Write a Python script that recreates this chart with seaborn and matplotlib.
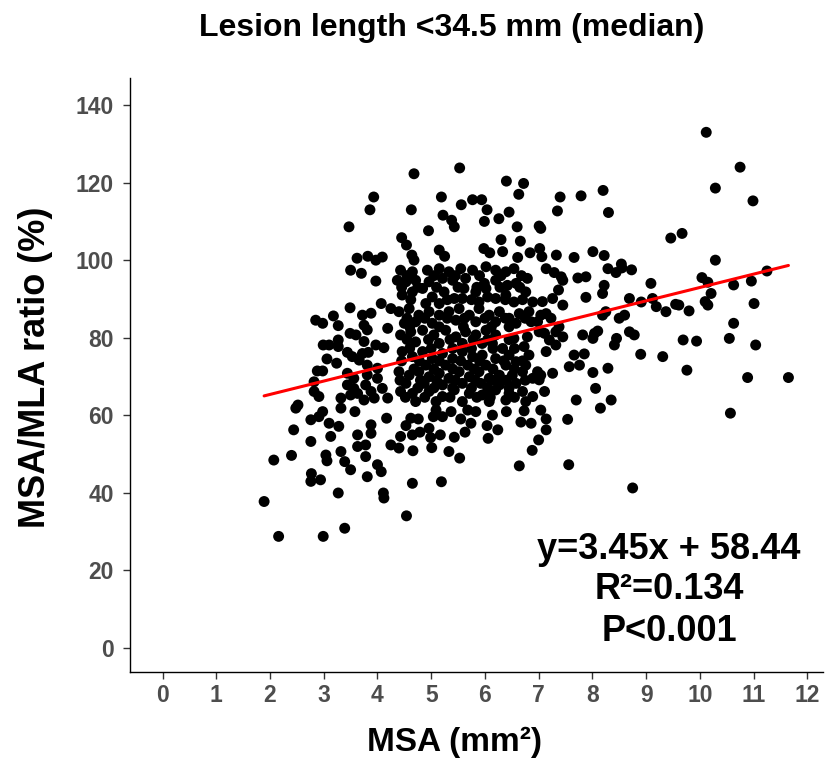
"""Scatter of MSA/MLA ratio vs MSA for lesions shorter than the median length."""
import matplotlib.pyplot as plt
import pandas as pd
import seaborn as sns

# values, (MSA mm2, MSA/MLA %)
upper_pts = [
    (3.93, 116.3), (3.86, 113.0), (3.47, 108.6), (3.62, 100.5), (3.82, 101.0), (3.97, 100.0), (4.09, 100.8),
    (4.68, 122.3), (5.53, 123.8), (6.40, 120.4), (6.72, 119.8), (6.63, 117.0), (5.19, 116.3), (5.77, 115.6),
    (5.94, 115.6), (4.63, 113.0), (5.56, 114.3), (6.04, 113.0), (6.45, 112.4), (5.22, 111.6), (5.38, 110.3),
    (5.43, 108.6), (5.99, 110.0), (6.26, 110.7), (6.60, 108.6), (4.95, 107.6), (4.45, 105.8), (4.54, 103.9),
    (6.30, 105.3), (6.66, 104.9), (5.15, 102.6), (5.25, 101.0), (5.98, 103.0), (6.09, 101.9), (6.33, 102.2),
    (6.61, 100.7), (6.84, 101.9), (4.64, 101.3), (4.68, 100.0),
    (7.40, 116.3), (7.79, 116.6), (8.20, 118.0), (7.35, 112.7), (8.30, 112.3), (7.01, 108.8), (7.04, 108.2),
    (9.46, 105.7), (7.02, 103.0), (7.06, 100.9), (7.33, 101.3), (7.66, 100.7), (8.01, 102.2), (8.22, 101.2),
    (8.54, 99.0),
    (10.12, 133.0), (10.75, 124.0), (10.29, 118.6), (10.99, 115.3), (9.67, 106.9), (10.29, 100.0),
]

right_pts = [
    (10.04, 95.5), (10.15, 94.3), (10.63, 93.6), (10.96, 94.6), (11.25, 97.2), (10.21, 91.4), (9.61, 88.4),
    (9.80, 86.9), (10.10, 89.3), (10.15, 88.4), (11.01, 88.8), (10.63, 83.7), (9.69, 79.4), (9.94, 79.1),
    (10.55, 79.8), (11.04, 78.1), (9.76, 71.6), (10.89, 69.7), (11.65, 69.7), (10.57, 60.5),
]

left_pts = [
    (3.50, 97.4), (3.70, 96.6), (3.97, 94.6), (3.49, 87.7), (4.07, 88.8), (4.25, 87.5), (3.88, 86.3),
    (3.72, 85.8), (3.18, 85.6), (2.85, 84.5), (2.98, 83.7), (3.27, 83.1), (3.75, 83.2), (3.81, 82.0),
    (4.19, 82.4), (3.49, 81.1), (3.60, 80.7), (3.27, 79.4), (2.99, 78.1), (3.10, 78.1), (3.27, 77.7),
    (3.75, 79.0), (3.97, 78.1), (4.12, 77.4), (3.44, 76.2), (3.53, 75.1), (3.72, 75.9), (3.83, 76.2),
    (3.06, 74.5), (3.24, 73.4), (3.66, 74.2), (3.81, 72.9), (4.00, 72.1), (2.88, 71.4), (2.98, 71.4),
    (3.44, 70.8), (3.56, 69.5), (3.81, 70.4), (4.00, 69.5), (2.82, 68.6), (3.44, 67.8), (3.56, 66.9),
    (3.78, 67.8), (3.88, 66.1), (4.09, 66.9), (2.82, 66.1), (2.91, 64.8), (3.32, 64.4), (3.50, 65.2),
    (3.63, 65.6), (3.75, 63.9), (3.94, 64.4), (4.19, 64.4), (2.52, 62.6),
]

core_pts = [
    (4.43, 97.4), (4.65, 97.0), (4.93, 97.4), (5.15, 97.8), (5.33, 97.0), (5.55, 97.8), (5.77, 97.4),
    (6.02, 98.3), (6.20, 97.4), (6.39, 97.0), (6.54, 97.8), (6.79, 95.3), (6.58, 94.0), (6.42, 93.5),
    (6.20, 94.8), (5.99, 94.0), (5.64, 95.3), (5.40, 94.8), (5.21, 95.3), (4.96, 94.4), (4.71, 94.8),
    (4.53, 94.4), (4.37, 94.8),
    (4.46, 91.0), (4.65, 91.8), (4.84, 92.7), (5.02, 90.5), (5.24, 91.8), (5.43, 90.1), (5.61, 92.7),
    (5.83, 91.8), (6.02, 92.7), (6.20, 90.1), (6.39, 91.0), (6.54, 89.2), (6.76, 91.8), (6.89, 89.2),
    (4.90, 88.8), (5.15, 88.8), (5.58, 90.1), (5.89, 89.2), (6.05, 90.5),
    (4.40, 86.7), (4.59, 87.5), (4.77, 85.8), (4.96, 86.7), (5.15, 85.8), (5.33, 86.7), (5.52, 87.5),
    (5.71, 85.8), (5.89, 87.5), (6.08, 85.8), (6.27, 86.7), (6.45, 85.0), (6.64, 86.2), (6.82, 86.7),
    (4.71, 84.1), (5.02, 83.7), (5.46, 84.5), (5.83, 84.1), (6.20, 84.1), (6.58, 83.7), (6.86, 84.1),
    (4.50, 83.7),
    (4.43, 80.7), (4.62, 81.5), (4.84, 81.9), (5.05, 80.7), (5.27, 81.9), (5.46, 80.2), (5.64, 81.5),
    (5.83, 80.7), (6.02, 81.9), (6.20, 80.7), (6.33, 77.2), (6.54, 79.8), (6.79, 80.2), (4.71, 78.9),
    (5.15, 78.5), (5.58, 78.5), (5.95, 78.5), (6.14, 78.5), (6.73, 77.7),
    (4.46, 76.4), (4.65, 75.1), (4.84, 76.4), (5.02, 74.6), (5.21, 75.9), (5.40, 74.6), (5.58, 76.4),
    (5.77, 75.1), (5.95, 75.5), (6.20, 74.6), (6.45, 75.5), (6.58, 73.8), (6.82, 75.5), (4.90, 72.9),
    (5.27, 72.9), (5.68, 72.9), (6.02, 72.9), (6.39, 72.9), (6.76, 72.9),
    (4.40, 71.2), (4.59, 70.3), (4.77, 71.2), (4.96, 69.9), (5.15, 70.8), (5.33, 69.5), (5.52, 71.2),
    (5.71, 69.9), (5.89, 71.2), (6.08, 69.5), (6.27, 70.3), (6.51, 70.3), (6.70, 71.2), (6.89, 69.5),
    (4.53, 68.2), (4.87, 68.2), (5.21, 67.8), (5.58, 68.2), (5.92, 68.2), (6.27, 67.8), (6.58, 68.2),
    (4.43, 66.1), (4.65, 65.6), (4.96, 66.1), (5.21, 64.8), (5.43, 66.5), (5.71, 65.6), (5.95, 65.2),
    (6.20, 66.5), (6.45, 65.6), (6.70, 66.1), (6.89, 64.8), (4.71, 63.5), (5.09, 63.5), (5.58, 63.5),
    (6.08, 63.5), (6.39, 63.9), (6.76, 63.5),
]

# extra points hidden in the solid-looking middle of the cloud
core_fill_pts = [
    (4.55, 96.0), (5.05, 96.0), (5.45, 96.0), (5.90, 96.0), (6.30, 96.0), (6.68, 96.0),
    (4.45, 93.0), (4.75, 93.0), (5.10, 93.0), (5.50, 93.0), (5.85, 93.0), (6.28, 93.0), (6.65, 93.0),
    (4.62, 89.8), (5.30, 89.8), (5.75, 89.8), (6.38, 89.8), (6.70, 89.8),
    (4.55, 85.0), (4.88, 85.0), (5.30, 85.0), (5.62, 85.0), (6.00, 85.0), (6.38, 85.0), (6.75, 85.0),
    (4.60, 82.8), (5.15, 82.8), (5.60, 82.8), (6.12, 82.8), (6.45, 82.8),
    (4.55, 79.5), (4.95, 79.5), (5.35, 79.5), (5.78, 79.5), (6.05, 79.5), (6.45, 79.5),
    (4.60, 77.2), (5.00, 77.2), (5.40, 77.2), (5.75, 77.2), (6.15, 77.2), (6.55, 77.2),
    (4.45, 74.0), (4.78, 74.0), (5.15, 74.0), (5.55, 74.0), (5.90, 74.0), (6.35, 74.0), (6.70, 74.0),
    (4.68, 71.9), (5.05, 71.9), (5.40, 71.9), (5.80, 71.9), (6.15, 71.9), (6.55, 71.9),
    (4.42, 69.0), (4.80, 69.0), (5.10, 69.0), (5.45, 69.0), (5.82, 69.0), (6.15, 69.0), (6.40, 69.0),
    (6.75, 69.0),
    (4.75, 67.0), (5.05, 67.0), (5.40, 67.0), (5.75, 67.0), (6.05, 67.0), (6.45, 67.0),
    (4.52, 64.6), (4.88, 64.6), (5.35, 64.6), (5.85, 64.6), (6.10, 64.6), (6.55, 64.6),
]

mid_right_pts = [
    (7.14, 97.8), (7.29, 96.8), (7.42, 95.7), (7.45, 94.8), (7.73, 95.4), (7.88, 95.7), (8.29, 97.8),
    (8.44, 96.8), (8.55, 98.0), (8.73, 97.5), (8.22, 93.5), (8.19, 91.4), (7.37, 92.3), (7.88, 90.4),
    (7.07, 89.3), (7.26, 90.1), (7.45, 88.4), (7.04, 85.8), (7.14, 86.2), (7.23, 85.0), (6.98, 84.1),
    (7.01, 81.5), (7.11, 81.1), (7.20, 79.4), (7.32, 78.1), (7.14, 76.4), (7.38, 82.8), (7.45, 80.2),
    (7.32, 81.5), (7.82, 80.7), (8.04, 81.1), (8.01, 79.8), (8.10, 81.7), (8.45, 79.8), (8.41, 78.1),
    (8.69, 81.5), (8.78, 80.7), (8.19, 85.8), (8.25, 86.7), (8.50, 85.0), (8.60, 85.8), (8.69, 90.1),
    (8.91, 89.2), (9.12, 90.1), (9.09, 94.0), (9.19, 88.0), (9.37, 86.7), (9.55, 88.6), (8.90, 75.7),
    (9.31, 75.1), (7.66, 75.5), (7.85, 75.8), (7.57, 72.5), (7.76, 72.9), (8.29, 72.1), (8.01, 71.0),
    (6.98, 71.2), (7.04, 70.3), (7.01, 69.1), (7.26, 70.8), (7.11, 66.1), (8.06, 66.9), (7.70, 63.9),
    (8.35, 63.9),
]

lower_pts = [
    (7.04, 61.3), (7.14, 59.0), (7.54, 58.9), (8.15, 61.8), (7.14, 56.2), (7.00, 53.6), (7.56, 47.2),
    (8.75, 41.2), (6.64, 46.9), (4.65, 42.4), (5.19, 42.8), (4.54, 34.0), (5.33, 50.6), (5.53, 48.9),
    (5.01, 51.6), (4.66, 50.8), (4.40, 51.5), (6.88, 50.9), (6.06, 54.0), (6.24, 56.2), (6.67, 58.2),
    (6.86, 57.9), (6.40, 60.9), (6.73, 61.1), (6.04, 57.3), (6.14, 60.0), (5.63, 55.6), (5.43, 54.3),
    (5.17, 54.9), (4.96, 56.6), (4.99, 54.2), (4.79, 55.6), (4.65, 54.9), (4.43, 54.5), (4.53, 57.3),
    (4.62, 59.2), (4.76, 59.0), (5.55, 59.0), (5.74, 57.9), (5.68, 61.3), (5.83, 60.9), (5.04, 59.6),
    (5.21, 59.6), (5.37, 60.9), (5.09, 61.3),
    (1.89, 37.7), (2.16, 28.7), (2.99, 28.7), (3.39, 30.8), (2.07, 48.4), (2.40, 49.6), (2.77, 44.9),
    (2.76, 42.9), (2.94, 43.3), (3.27, 39.9), (3.04, 49.7), (3.06, 48.2), (3.32, 50.6), (3.39, 48.0),
    (3.50, 45.9), (3.78, 49.3), (3.81, 44.1), (4.00, 47.2), (4.07, 45.4), (4.12, 38.6), (4.11, 39.9),
    (2.44, 56.2), (2.76, 53.2), (2.76, 58.8), (2.91, 59.6), (2.98, 60.9), (3.13, 54.5), (3.28, 57.1),
    (3.10, 57.9), (3.63, 54.9), (3.63, 51.9), (3.78, 52.3), (3.88, 55.3), (3.88, 57.5), (4.17, 59.2),
    (4.25, 52.3), (2.48, 61.8), (3.32, 61.8), (3.58, 60.9),
]

points = upper_pts + right_pts + left_pts + core_pts + core_fill_pts + mid_right_pts + lower_pts
df = pd.DataFrame(points, columns=["msa", "ratio"])

slope, intercept = 3.45, 58.44
x_ticks = list(range(0, 13))
y_ticks = [0, 20, 40, 60, 80, 100, 120, 140]
stats_lines = ["y=3.45x + 58.44", "R²=0.134", "P<0.001"]
stats_y = [25.3, 14.9, 4.1]

sns.set_theme(style="white")
plt.rcParams["font.family"] = ["Liberation Sans", "DejaVu Sans"]

fig = plt.figure(figsize=(8.25, 7.58), dpi=100)
ax = fig.add_axes([0.158, 0.1135, 0.840, 0.7835])

sns.scatterplot(data=df, x="msa", y="ratio", ax=ax, color="black", s=62, edgecolor="none", linewidth=0)

# fitted line over observed MSA range
x0, x1 = df["msa"].min(), df["msa"].max()
line = pd.DataFrame({"msa": [x0, x1], "ratio": [slope * x0 + intercept, slope * x1 + intercept]})
sns.lineplot(data=line, x="msa", y="ratio", ax=ax, color="#FF0000", lw=2.2)

ax.set_xlim(-0.6, 12.3)
ax.set_ylim(-6.3, 147)
ax.set_xticks(x_ticks)
ax.set_yticks(y_ticks)
ax.tick_params(axis="both", labelsize=16.5, labelcolor="#4D4D4D", length=5, width=1, color="#333333",
               bottom=True, left=True)
ax.tick_params(axis="y", pad=7)
ax.tick_params(axis="x", pad=4)
for lab in ax.get_xticklabels() + ax.get_yticklabels():
    lab.set_fontweight("bold")

for side in ["top", "right"]:
    ax.spines[side].set_visible(False)
for side in ["left", "bottom"]:
    ax.spines[side].set_color("black")
    ax.spines[side].set_linewidth(1.0)

ax.set_xlabel("MSA (mm²)", fontsize=24, fontweight="bold", color="black")
ax.set_ylabel("MSA/MLA ratio (%)", fontsize=26, fontweight="bold", color="black")
ax.xaxis.set_label_coords(0.468, -0.093)
ax.yaxis.set_label_coords(-0.112, 0.513)
ax.grid(False)

fig.text(0.548, 0.963, "Lesion length <34.5 mm (median)", ha="center", va="center",
         fontsize=23, fontweight="bold", color="black")
for txt, yv in zip(stats_lines, stats_y):
    ax.text(9.43, yv, txt, ha="center", va="center", fontsize=26, fontweight="bold", color="black")

fig.savefig("out.png", dpi=100)
plt.close(fig)
